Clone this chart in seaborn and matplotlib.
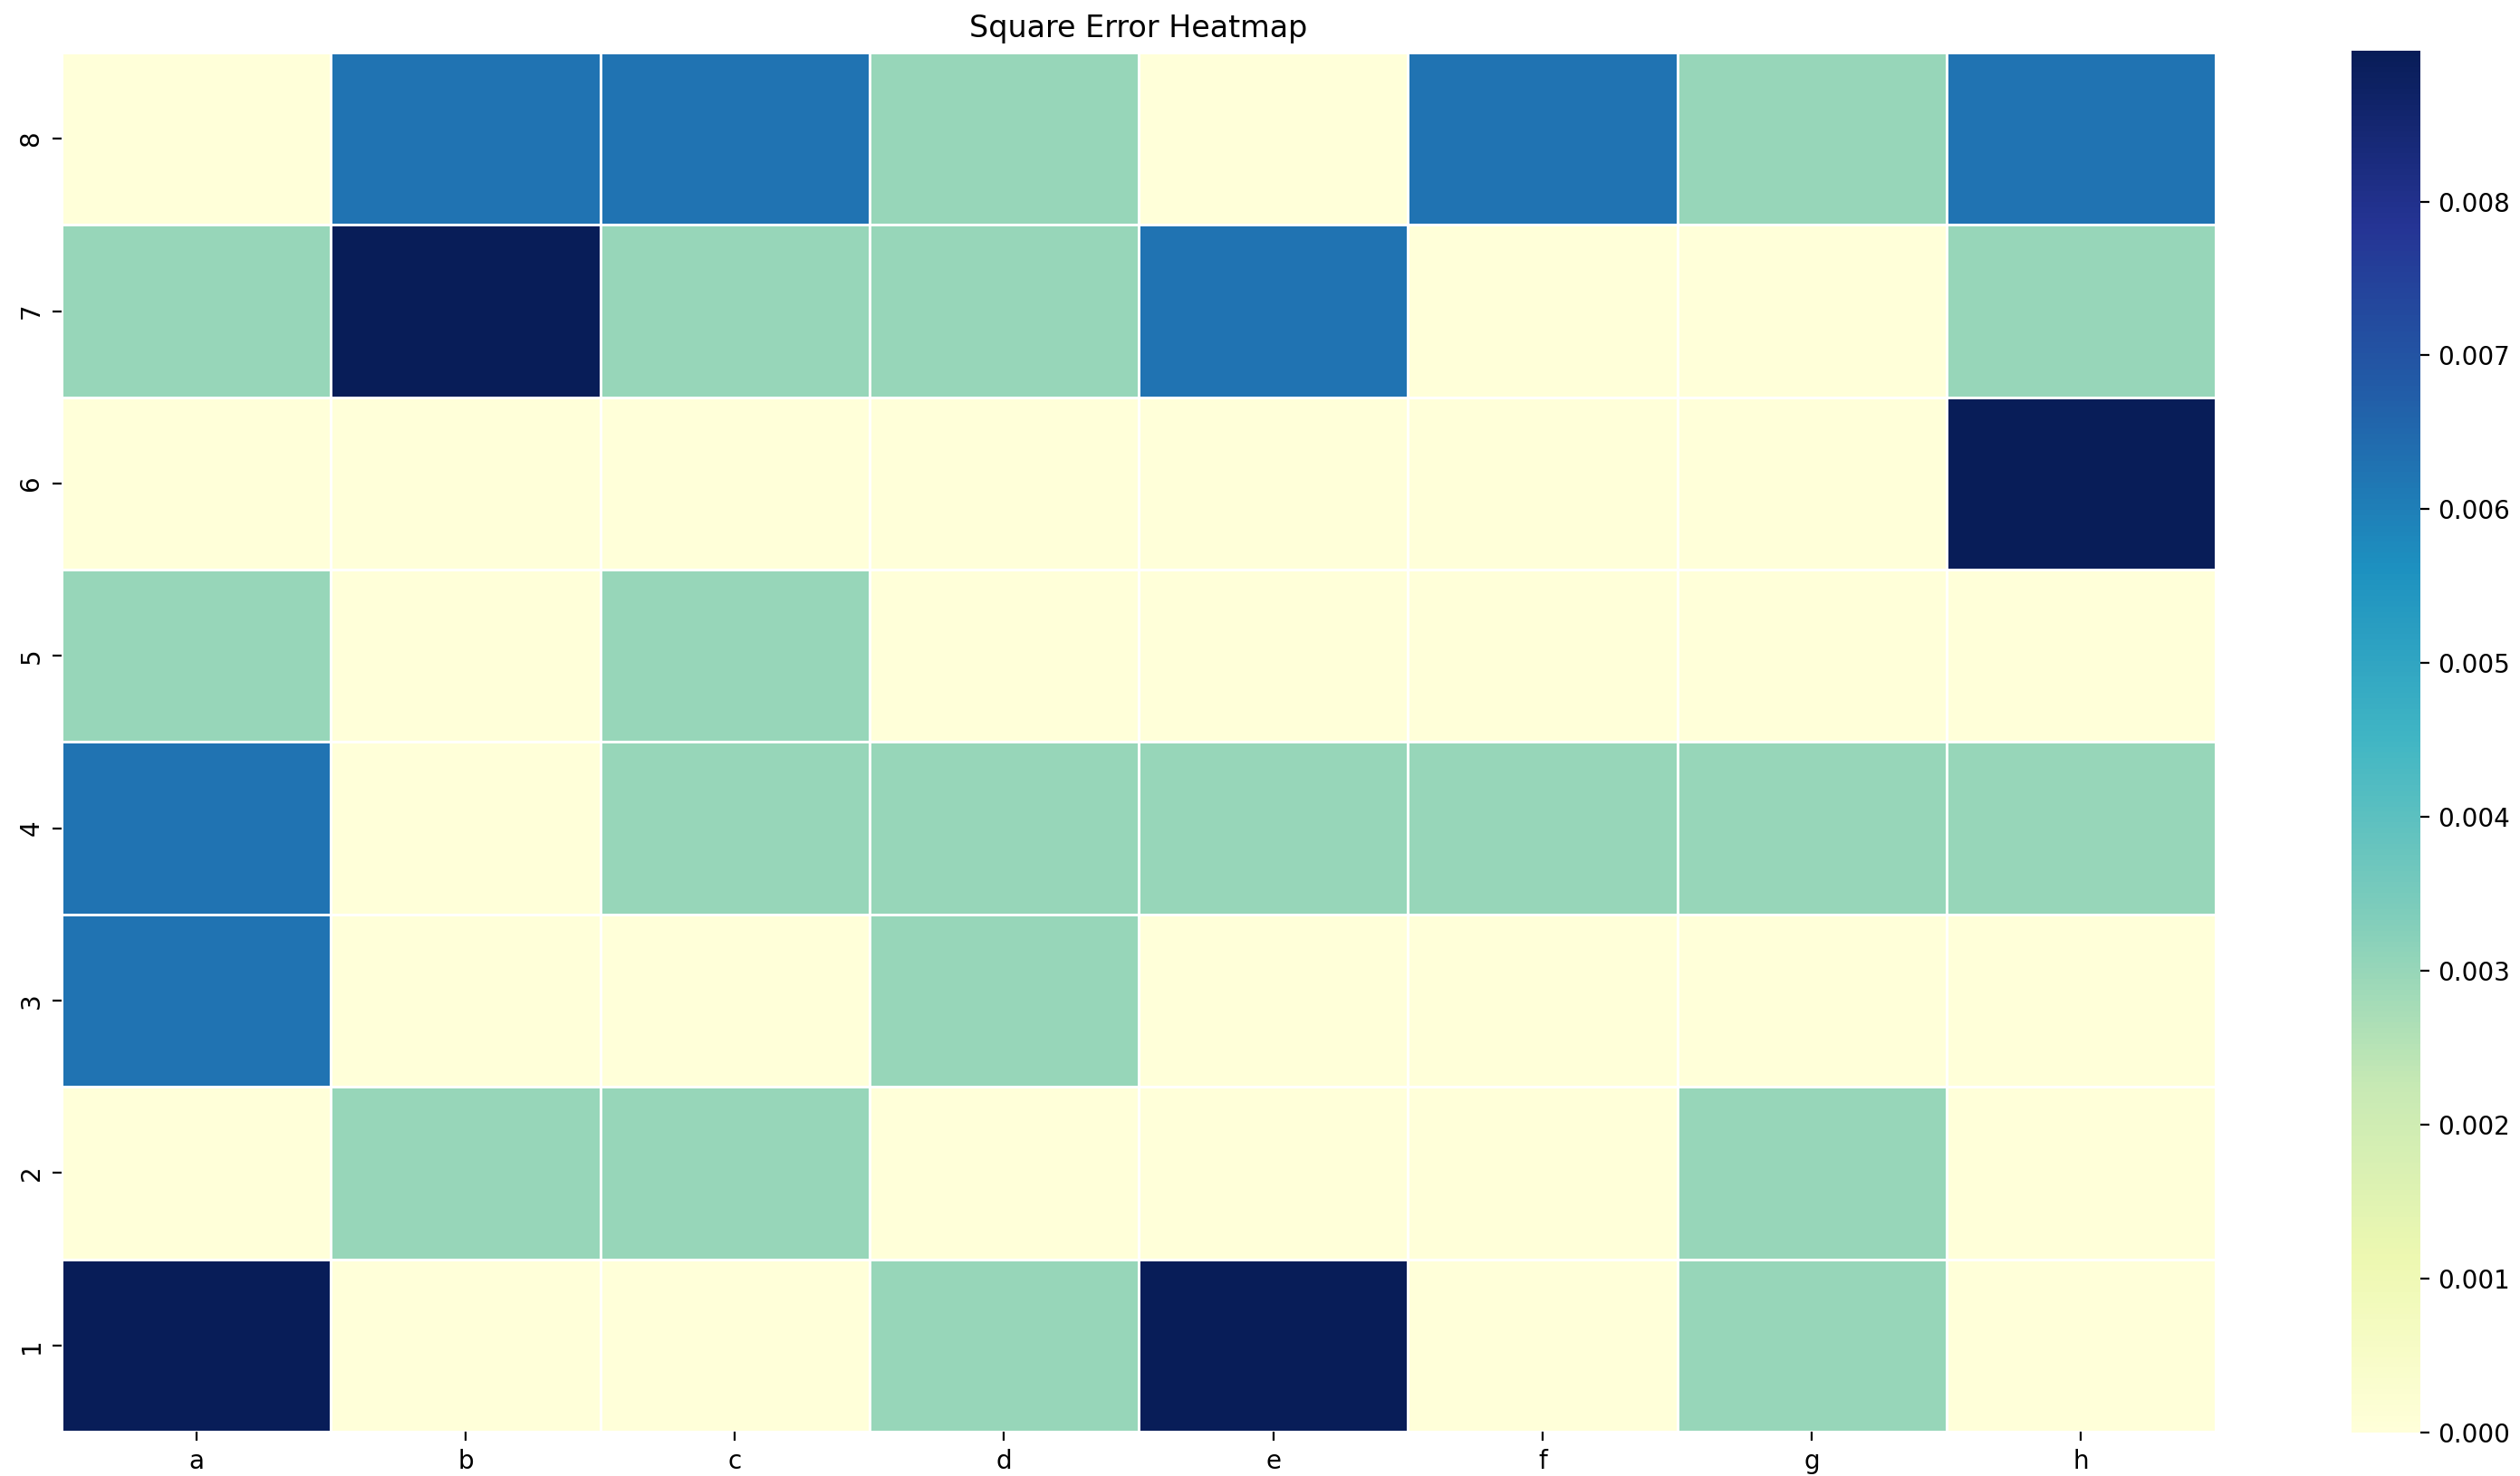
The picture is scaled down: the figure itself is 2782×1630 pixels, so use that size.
import matplotlib
matplotlib.use("Agg")
import matplotlib.pyplot as plt
import seaborn as sns
import numpy as np
import pandas as pd

columns = ["a", "b", "c", "d", "e", "f", "g", "h"]
rows = ["8", "7", "6", "5", "4", "3", "2", "1"]

row_8 = [0.0, 0.00625, 0.00625, 0.00300, 0.0, 0.00625, 0.00300, 0.00625]
row_7 = [0.00300, 0.00898, 0.00300, 0.00300, 0.00625, 0.0, 0.0, 0.00300]
row_6 = [0.0, 0.0, 0.0, 0.0, 0.0, 0.0, 0.0, 0.00898]
row_5 = [0.00300, 0.0, 0.00300, 0.0, 0.0, 0.0, 0.0, 0.0]
row_4 = [0.00625, 0.0, 0.00300, 0.00300, 0.00300, 0.00300, 0.00300, 0.00300]
row_3 = [0.00625, 0.0, 0.0, 0.00300, 0.0, 0.0, 0.0, 0.0]
row_2 = [0.0, 0.00300, 0.00300, 0.0, 0.0, 0.0, 0.00300, 0.0]
row_1 = [0.00898, 0.0, 0.0, 0.00300, 0.00898, 0.0, 0.00300, 0.0]

df = pd.DataFrame([row_8, row_7, row_6, row_5, row_4, row_3, row_2, row_1],
                  index=rows, columns=columns)

W, H = 2782, 1630
fig = plt.figure(figsize=(W / 200, H / 200), dpi=200)
ax = fig.add_axes([68 / W, (H - 1581) / H, (2446 - 68) / W, (1581 - 58) / H])
cax = fig.add_axes([2596 / W, (H - 1582) / H, (2672 - 2596) / W, (1582 - 56) / H])

sns.heatmap(df, ax=ax, cbar_ax=cax, cmap="YlGnBu", linewidths=1, linecolor="white")
ax.set_title("Square Error Heatmap", fontsize=12)
ax.tick_params(labelsize=10)
cax.tick_params(labelsize=10)
cax.set_frame_on(False)

fig.savefig("out.png", dpi=200)
